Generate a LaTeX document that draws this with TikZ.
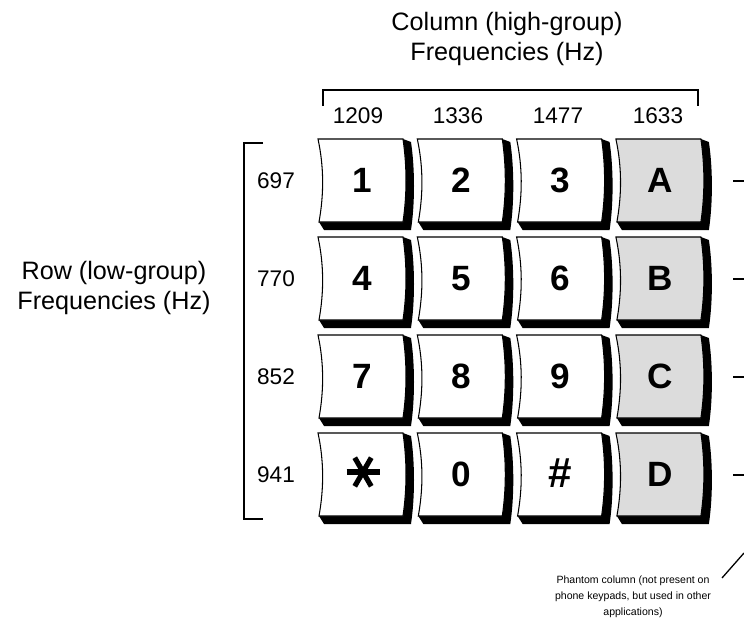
\documentclass[tikz,border=0pt]{standalone}
\usepackage{fontspec}
\setmainfont{Liberation Sans}
\usetikzlibrary{positioning}
\definecolor{phantom}{RGB}{220,220,220}

\tikzset{
  heading/.style={align=center, inner sep=0pt, font=\fontsize{21.5}{25}\selectfont},
  freq/.style={inner sep=0pt, font=\fontsize{19.3}{22}\selectfont},
  keylabel/.style={inner sep=0pt, font=\fontsize{30}{30}\selectfont\bfseries},
  note/.style={align=center, inner sep=0pt, font=\fontsize{9}{13.6}\selectfont},
  bracket/.style={line width=1.6pt},
  lead/.style={line width=1.1pt},
  starstroke/.style={line width=4.4pt},
  pics/dtmfkey/.style={code={
    \fill (85,0) -- (93,3) .. controls (97,30) and (97,64) .. (93,91) -- (6,91) -- (1,83) -- cycle;
    \filldraw[fill=#1, line width=0.9pt] (0,0) -- (85,0) .. controls (89,28) and (89,55) .. (85,83)
      -- (1,83) .. controls (6,55) and (6,28) .. (0,0) -- cycle;
  }}
}

\begin{document}
\begin{tikzpicture}[x=0.03cm, y=-0.03cm]
  \useasboundingbox (0,0) rectangle (744,619);

  % Headings
  \node [heading] (colhead) at (507,39) {Column (high-group)\\Frequencies (Hz)};
  \node [heading] (rowhead) at (114,288) {Row (low-group)\\Frequencies (Hz)};

  % Keys
  \foreach \r/\freq in {0/697, 1/770, 2/852, 3/941} {
    \foreach \c in {0,1,2}
      \pic at ({318+99.3*\c},{139+98*\r}) {dtmfkey=white};
    \pic at ({318+99.3*3},{139+98*\r}) {dtmfkey=phantom};
    \node [freq] (row\r) at (276,{181+98*\r}) {\freq};
    \coordinate (tone\r) at (733,{181+98*\r});
    \coordinate (edge\r) at (744,{181+98*\r});
    \draw [lead] (tone\r) -- (edge\r);
  }
  \foreach \f [count=\c from 0] in {1209,1336,1477,1633}
    \node [freq] (col\c) at ({358+100*\c},116) {\f};

  % Key labels
  \foreach \k [count=\c from 0] in {1,2,3,A}
    \node [keylabel] (key0\c) at ({362+99.3*\c},180.5) {\k};
  \foreach \k [count=\c from 0] in {4,5,6,B}
    \node [keylabel] (key1\c) at ({362+99.3*\c},278.5) {\k};
  \foreach \k [count=\c from 0] in {7,8,9,C}
    \node [keylabel] (key2\c) at ({362+99.3*\c},376.5) {\k};
  \node [keylabel] (key31) at (461.3,474.5) {0};
  \node [keylabel, font=\fontsize{36}{36}\selectfont\bfseries] (key32) at (560.6,473.5) {\#};
  \node [keylabel] (key33) at (659.9,474.5) {D};
  \node [inner sep=0pt] (key30) at (363,472) {};
  \draw [starstroke] (key30.center) ++(-16.5,0) -- ++(33,0);
  \draw [starstroke] (key30.center) ++(-8.25,-14.3) -- ++(16.5,28.6);
  \draw [starstroke] (key30.center) ++(8.25,-14.3) -- ++(-16.5,28.6);

  % Brackets
  \draw [bracket] (263,143) -- (244,143) -- (244,519) -- (263,519);
  \draw [bracket] (323,106) -- (323,90) -- (698,90) -- (698,106);

  % Phantom column note
  \node [note] (phantomnote) at (633,597) {Phantom column (not present on\\phone keypads, but used in other\\applications)};
  \coordinate (ptrfoot) at (722,578);
  \coordinate (ptrtop) at (744,553);
  \draw [lead] (ptrfoot) -- (ptrtop);
\end{tikzpicture}
\end{document}
